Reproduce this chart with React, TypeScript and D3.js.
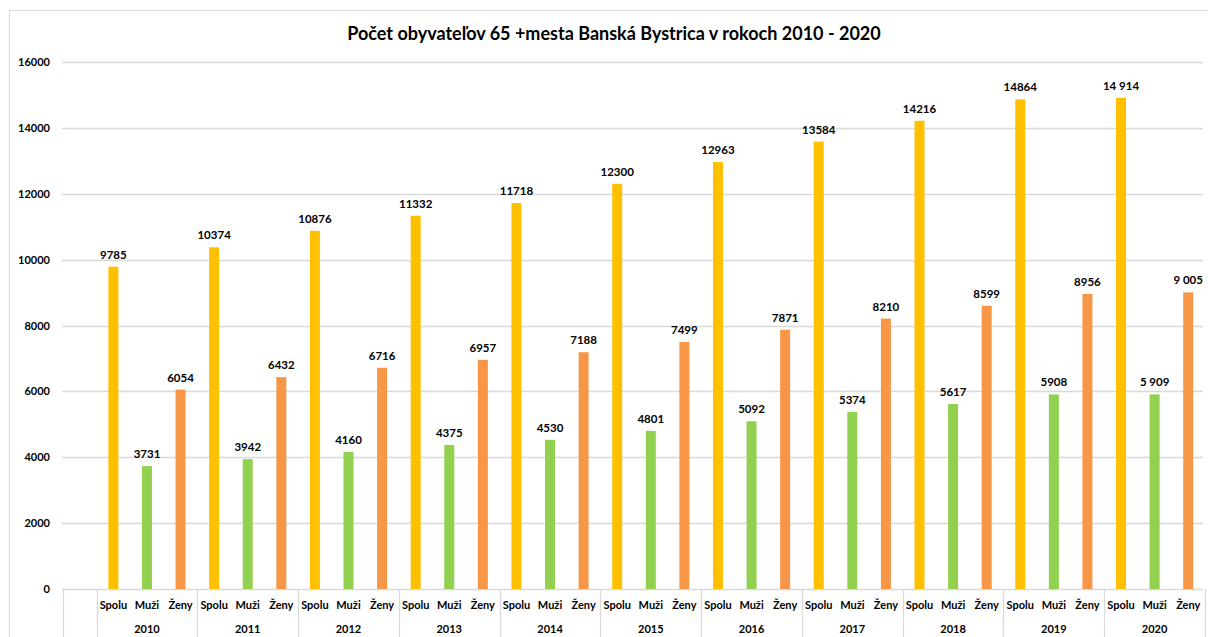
import { FC } from 'react'
import * as d3 from 'd3'

const years = [2010, 2011, 2012, 2013, 2014, 2015, 2016, 2017, 2018, 2019, 2020]
const series = ['Spolu', 'Muži', 'Ženy']
const spolu = [9785, 10374, 10876, 11332, 11718, 12300, 12963, 13584, 14216, 14864, 14914]
const muzi = [3731, 3942, 4160, 4375, 4530, 4801, 5092, 5374, 5617, 5908, 5909]
const zeny = [6054, 6432, 6716, 6957, 7188, 7499, 7871, 8210, 8599, 8956, 9005]
const yTicks = [0, 2000, 4000, 6000, 8000, 10000, 12000, 14000, 16000]
// the last year's labels were typed with a space as thousands separator
const spacedYears = [2020]

const colors = ['#FFC000', '#92D050', '#F79646']
const font = 'Lato, "Open Sans", sans-serif'

const width = 1208
const height = 637
const margin = { top: 62, right: 3, bottom: 48, left: 63 }

const App: FC = () => {
  const values = [spolu, muzi, zeny]
  const rows = years.flatMap((yr, i) =>
    series.map((s, j) => ({ key: `${yr}-${s}`, year: yr, name: s, value: values[j][i], color: colors[j] }))
  )

  // an empty first category, as in the original sheet
  const x = d3.scaleBand<string>()
    .domain(['', ...rows.map(d => d.key)])
    .range([margin.left, width - margin.right])
    .padding(0)

  const y = d3.scaleLinear()
    .domain([0, 16000])
    .range([height - margin.bottom, margin.top])

  const barW = 10
  const fmtSpace = (v: number) => d3.format(',')(v).replace(/,/g, ' ')
  const step = x.step()
  const y0 = y(0)
  const groupEdges = d3.range(years.length + 1).map(i => (x(rows[0].key) || 0) + i * step * 3)

  return (
    <svg width={width} height={height} style={{ position: 'absolute', left: 0, top: 0, background: '#fff' }}
      fontFamily={font}>
      <rect x={9.5} y={10.5} width={1210} height={640} fill="none" stroke="#d9d9d9" />
      <text x={614} y={40} textAnchor="middle" fontSize={18} fontWeight={700} fill="#000">
        Počet obyvateľov 65 +mesta Banská Bystrica v rokoch 2010 - 2020
      </text>

      {yTicks.map(t => (
        <g key={t}>
          <line x1={margin.left - 1} x2={width - 5} y1={Math.round(y(t)) + 0.5} y2={Math.round(y(t)) + 0.5}
            stroke="#d9d9d9" strokeWidth={1.3} />
          <text x={50} y={y(t) + 4} textAnchor="end" fontSize={11} fontWeight={700} fill="#000">{t}</text>
        </g>
      ))}

      {/* category axis box */}
      <line x1={margin.left + 0.5} x2={margin.left + 0.5} y1={y0} y2={height} stroke="#d9d9d9" strokeWidth={1.3} />
      {groupEdges.map((gx, i) => (
        <line key={i} x1={Math.round(gx) + 0.5} x2={Math.round(gx) + 0.5} y1={y0} y2={height}
          stroke="#d9d9d9" strokeWidth={1.3} />
      ))}

      {rows.map(d => {
        const cx = (x(d.key) || 0) + step / 2
        const label = spacedYears.includes(d.year) ? fmtSpace(d.value) : String(d.value)
        return (
          <g key={d.key}>
            <rect x={cx - barW / 2} y={y(d.value)} width={barW} height={y0 - y(d.value)} fill={d.color} />
            <text x={cx} y={y(d.value) - 8} textAnchor="middle" fontSize={11.5} fontWeight={700} fill="#000">{label}</text>
            <text x={cx} y={609} textAnchor="middle" fontSize={11} fontWeight={700} fill="#000">{d.name}</text>
          </g>
        )
      })}

      {years.map((yr, i) => (
        <text key={yr} x={(groupEdges[i] + groupEdges[i + 1]) / 2} y={633} textAnchor="middle"
          fontSize={11} fontWeight={700} fill="#000">{yr}</text>
      ))}
    </svg>
  )
}

export default App
